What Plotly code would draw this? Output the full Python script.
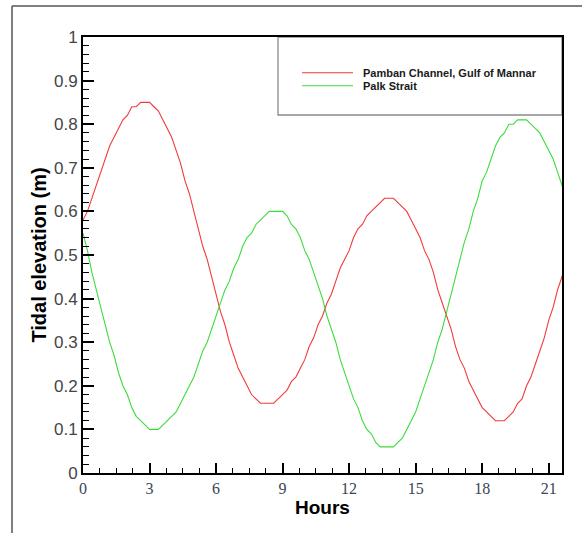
import plotly.graph_objects as go

# ---------------- data ----------------
hours = [
    0.0, 0.2, 0.4, 0.6, 0.8, 1.0, 1.2, 1.4, 1.6, 1.8,
    2.0, 2.2, 2.4, 2.6, 2.8, 3.0, 3.2, 3.4, 3.6, 3.8,
    4.0, 4.2, 4.4, 4.6, 4.8, 5.0, 5.2, 5.4, 5.6, 5.8,
    6.0, 6.2, 6.4, 6.6, 6.8, 7.0, 7.2, 7.4, 7.6, 7.8,
    8.0, 8.2, 8.4, 8.6, 8.8, 9.0, 9.2, 9.4, 9.6, 9.8,
    10.0, 10.2, 10.4, 10.6, 10.8, 11.0, 11.2, 11.4, 11.6, 11.8,
    12.0, 12.2, 12.4, 12.6, 12.8, 13.0, 13.2, 13.4, 13.6, 13.8,
    14.0, 14.2, 14.4, 14.6, 14.8, 15.0, 15.2, 15.4, 15.6, 15.8,
    16.0, 16.2, 16.4, 16.6, 16.8, 17.0, 17.2, 17.4, 17.6, 17.8,
    18.0, 18.2, 18.4, 18.6, 18.8, 19.0, 19.2, 19.4, 19.6, 19.8,
    20.0, 20.2, 20.4, 20.6, 20.8, 21.0, 21.2, 21.4, 21.6, 21.8,
]

pamban_name = "Pamban Channel, Gulf of Mannar"
pamban = [
    0.58, 0.60, 0.63, 0.66, 0.69, 0.72, 0.75, 0.77, 0.79, 0.81,
    0.82, 0.84, 0.84, 0.85, 0.85, 0.85, 0.84, 0.83, 0.81, 0.79,
    0.77, 0.74, 0.71, 0.67, 0.64, 0.60, 0.56, 0.52, 0.49, 0.45,
    0.41, 0.37, 0.34, 0.30, 0.27, 0.24, 0.22, 0.20, 0.18, 0.17,
    0.16, 0.16, 0.16, 0.16, 0.17, 0.18, 0.19, 0.21, 0.22, 0.24,
    0.26, 0.29, 0.31, 0.34, 0.36, 0.39, 0.41, 0.44, 0.47, 0.49,
    0.51, 0.54, 0.56, 0.57, 0.59, 0.60, 0.61, 0.62, 0.63, 0.63,
    0.63, 0.62, 0.61, 0.60, 0.58, 0.56, 0.54, 0.51, 0.49, 0.46,
    0.42, 0.39, 0.36, 0.33, 0.29, 0.26, 0.24, 0.21, 0.19, 0.17,
    0.15, 0.14, 0.13, 0.12, 0.12, 0.12, 0.13, 0.14, 0.16, 0.17,
    0.20, 0.22, 0.25, 0.28, 0.31, 0.35, 0.38, 0.42, 0.45, 0.49,
]

palk_name = "Palk Strait"
palk = [
    0.55, 0.51, 0.46, 0.42, 0.38, 0.34, 0.30, 0.27, 0.23, 0.20,
    0.18, 0.15, 0.13, 0.12, 0.11, 0.10, 0.10, 0.10, 0.11, 0.12,
    0.13, 0.14, 0.16, 0.18, 0.20, 0.22, 0.25, 0.28, 0.30, 0.33,
    0.36, 0.39, 0.42, 0.44, 0.47, 0.49, 0.52, 0.54, 0.55, 0.57,
    0.58, 0.59, 0.60, 0.60, 0.60, 0.60, 0.59, 0.57, 0.56, 0.54,
    0.51, 0.49, 0.46, 0.43, 0.40, 0.36, 0.33, 0.30, 0.26, 0.23,
    0.20, 0.17, 0.15, 0.12, 0.10, 0.09, 0.07, 0.06, 0.06, 0.06,
    0.06, 0.07, 0.08, 0.10, 0.12, 0.14, 0.17, 0.20, 0.23, 0.26,
    0.30, 0.33, 0.37, 0.41, 0.45, 0.49, 0.53, 0.56, 0.60, 0.63,
    0.67, 0.69, 0.72, 0.75, 0.77, 0.78, 0.80, 0.80, 0.81, 0.81,
    0.81, 0.80, 0.79, 0.78, 0.76, 0.74, 0.72, 0.69, 0.66, 0.63,
]

x_ticks = [0, 3, 6, 9, 12, 15, 18, 21]
y_ticks = [0, 0.1, 0.2, 0.3, 0.4, 0.5, 0.6, 0.7, 0.8, 0.9, 1]
y_tick_text = ["0", "0.1", "0.2", "0.3", "0.4", "0.5", "0.6", "0.7", "0.8", "0.9", "1"]

red = "#f23a3a"
green = "#3cdc3c"

# ---------------- figure ----------------
fig = go.Figure()
fig.add_trace(go.Scatter(x=hours, y=pamban, mode="lines", name=pamban_name,
                         line=dict(color=red, width=1.1), showlegend=False))
fig.add_trace(go.Scatter(x=hours, y=palk, mode="lines", name=palk_name,
                         line=dict(color=green, width=1.1), showlegend=False))

W, H = 582, 533
L, R, T, B = 83, 20, 37, 60
pw, ph = W - L - R, H - T - B


def px(xp):
    return (xp - L) / pw


def py(yp):
    return (H - B - yp) / ph


shapes = []
# outer frame of the figure picture
shapes.append(dict(type="line", xref="paper", yref="paper", x0=px(12), x1=px(600),
                   y0=py(6), y1=py(6), line=dict(color="#555555", width=1.5)))
shapes.append(dict(type="line", xref="paper", yref="paper", x0=px(12), x1=px(12),
                   y0=py(6), y1=py(560), line=dict(color="#555555", width=1.5)))
# legend box
shapes.append(dict(type="rect", xref="paper", yref="paper", x0=px(278), x1=1,
                   y0=py(115), y1=1, line=dict(color="#8a8a8a", width=1.3),
                   fillcolor="white", layer="below"))
# legend samples
shapes.append(dict(type="line", xref="paper", yref="paper", x0=px(302), x1=px(353),
                   y0=py(72.7), y1=py(72.7), line=dict(color=red, width=1.1)))
shapes.append(dict(type="line", xref="paper", yref="paper", x0=px(302), x1=px(353),
                   y0=py(85.7), y1=py(85.7), line=dict(color=green, width=1.1)))

annotations = [
    dict(xref="paper", yref="paper", x=px(361), y=py(72.7), text="<b>%s</b>" % pamban_name,
         showarrow=False, xanchor="left", yanchor="middle",
         font=dict(family="Arial, Liberation Sans", size=11, color="#1a1a1a")),
    dict(xref="paper", yref="paper", x=px(361), y=py(85.7), text="<b>%s</b>" % palk_name,
         showarrow=False, xanchor="left", yanchor="middle",
         font=dict(family="Arial, Liberation Sans", size=11, color="#1a1a1a")),
]

fig.update_layout(
    width=W, height=H,
    margin=dict(l=L, r=R, t=T, b=B, pad=0, autoexpand=False),
    paper_bgcolor="white", plot_bgcolor="white",
    shapes=shapes, annotations=annotations,
    showlegend=False,
)

fig.update_xaxes(
    range=[0, 21.6], tickmode="array", tickvals=x_ticks,
    ticks="inside", ticklen=10, tickwidth=2, tickcolor="black",
    showline=True, linewidth=2, linecolor="black", mirror=True,
    showgrid=False, zeroline=False,
    tickfont=dict(family="Liberation Serif, Times New Roman, serif", size=16, color="#3a4556"),
    minor=dict(dtick=0.75, tick0=0, ticks="inside", ticklen=5, tickwidth=1, tickcolor="black"),
    title=dict(text="<b>Hours</b>", standoff=1,
               font=dict(family="Arial, Liberation Sans", size=19, color="black")),
)
fig.update_yaxes(
    range=[0, 1], tickmode="array", tickvals=y_ticks, ticktext=y_tick_text,
    ticks="inside", ticklen=11, tickwidth=2, tickcolor="black",
    showline=True, linewidth=2, linecolor="black", mirror=True,
    showgrid=False, zeroline=False,
    tickfont=dict(family="Arial, Liberation Sans", size=17, color="#454545"),
    minor=dict(dtick=0.02, tick0=0, ticks="inside", ticklen=6, tickwidth=1.3, tickcolor="black"),
    title=dict(text="<b>Tidal elevation (m)</b>", standoff=2,
               font=dict(family="Arial, Liberation Sans", size=20, color="black")),
)

# the page body must not add its default 8px offset around the figure
fig.write_html("out.html", config={"displayModeBar": False},
               post_script="document.body.style.margin='0px';")
